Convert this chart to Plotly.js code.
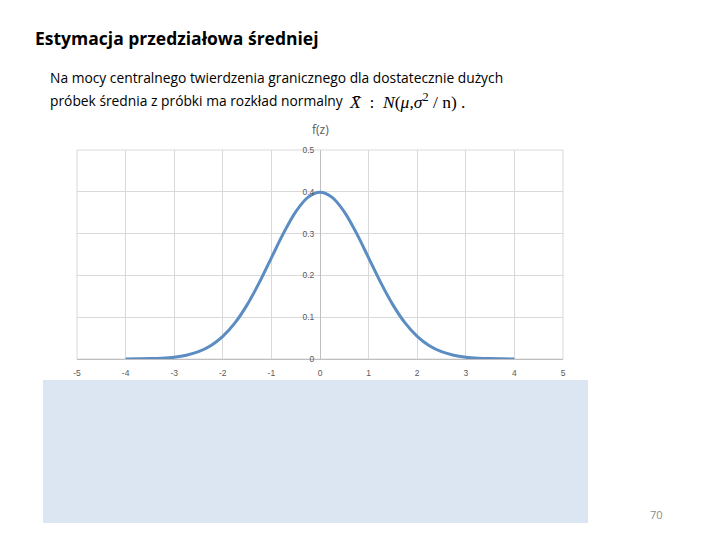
<!DOCTYPE html>
<html>
<head>
<meta charset="utf-8">
<script src="https://cdn.plot.ly/plotly-3.0.1.min.js"></script>
<style>html,body{margin:0;padding:0;background:#fff;}#chart{width:720px;height:540px;}</style>
</head>
<body>
<div id="chart"></div>
<script>
// Data (density of the curve)
const zValues = [-4,-3.75,-3.5,-3.25,-3,-2.75,-2.5,-2.25,-2,-1.75,-1.5,-1.25,-1,-0.75,-0.5,-0.25,0,0.25,0.5,0.75,1,1.25,1.5,1.75,2,2.25,2.5,2.75,3,3.25,3.5,3.75,4];
const fValues = [0.0001,0.0004,0.0009,0.0020,0.0044,0.0091,0.0175,0.0317,0.0540,0.0863,0.1295,0.1826,0.2420,0.3011,0.3521,0.3867,0.3989,0.3867,0.3521,0.3011,0.2420,0.1826,0.1295,0.0863,0.0540,0.0317,0.0175,0.0091,0.0044,0.0020,0.0009,0.0004,0.0001];
const xTicks = [-5,-4,-3,-2,-1,0,1,2,3,4,5];
const yTicks = [0,0.1,0.2,0.3,0.4,0.5];
const slideTitle = "Estymacja przedziałowa średniej";
const bodyLine1 = "Na mocy centralnego twierdzenia granicznego dla dostatecznie dużych";
const bodyLine2 = "próbek średnia z próbki ma rozkład normalny";
const axisTitle = "f(z)";
const pageNumber = "70";

const W = 720, H = 540;
const px = v => v / W, py = v => 1 - v / H;

const trace = {
  x: zValues, y: fValues, type: 'scatter', mode: 'lines',
  line: {color: '#5b8cc2', width: 3, shape: 'spline', smoothing: 1},
  hoverinfo: 'none', showlegend: false
};

const tickFont = {family: 'Liberation Sans, Arial, sans-serif', size: 8.5, color: '#595959'};

const layout = {
  width: W, height: H,
  margin: {l: 0, r: 0, t: 0, b: 0},
  paper_bgcolor: '#ffffff', plot_bgcolor: '#ffffff',
  showlegend: false,
  xaxis: {
    domain: [px(77), px(563)], range: [-5, 5],
    tickvals: xTicks, ticktext: xTicks.map(String),
    showgrid: true, gridcolor: '#d9d9d9', gridwidth: 1,
    zeroline: true, zerolinecolor: '#bfbfbf', zerolinewidth: 1,
    showline: false, ticks: 'outside', ticklen: 6, tickcolor: 'rgba(0,0,0,0)',
    tickfont: tickFont, anchor: 'y', fixedrange: true
  },
  yaxis: {
    domain: [py(359), py(150)], range: [0, 0.5],
    tickvals: yTicks, ticktext: yTicks.map(v => v === 0 ? '0' : String(v)),
    showgrid: true, gridcolor: '#d9d9d9', gridwidth: 1,
    zeroline: true, zerolinecolor: '#bfbfbf', zerolinewidth: 1,
    showline: false, ticks: 'outside', ticklen: 4, tickcolor: 'rgba(0,0,0,0)',
    tickfont: tickFont, anchor: 'free', position: px(320), fixedrange: true
  },
  shapes: [
    {type: 'rect', xref: 'paper', yref: 'paper', x0: px(77), x1: px(563), y0: py(359), y1: py(150),
     line: {color: '#d9d9d9', width: 1}, fillcolor: 'rgba(0,0,0,0)', layer: 'below'},
    {type: 'rect', xref: 'paper', yref: 'paper', x0: px(43), x1: px(588), y0: py(523), y1: py(380),
     line: {width: 0}, fillcolor: '#dce6f2', layer: 'below'}
  ],
  annotations: [
    {text: '<b>' + slideTitle + '</b>', xref: 'paper', yref: 'paper', x: px(33), y: py(38),
     xanchor: 'left', yanchor: 'middle', showarrow: false,
     font: {family: 'Open Sans, sans-serif', size: 17.5, color: '#000000'}},
    {text: bodyLine1, xref: 'paper', yref: 'paper', x: px(48), y: py(77),
     xanchor: 'left', yanchor: 'middle', showarrow: false,
     font: {family: 'Open Sans, sans-serif', size: 13.8, color: '#000000'}},
    {text: bodyLine2, xref: 'paper', yref: 'paper', x: px(48), y: py(101),
     xanchor: 'left', yanchor: 'middle', showarrow: false,
     font: {family: 'Open Sans, sans-serif', size: 13.8, color: '#000000'}},
    {text: '<i>X̄</i>  :  <i>N</i>(<i>μ</i>,<i>σ</i><sup>2</sup> / n) .', xref: 'paper', yref: 'paper', x: px(347), y: py(101),
     xanchor: 'left', yanchor: 'middle', showarrow: false,
     font: {family: 'Liberation Serif, Times New Roman, serif', size: 17.5, color: '#000000'}},
    {text: axisTitle, xref: 'paper', yref: 'paper', x: px(320), y: py(129),
     xanchor: 'center', yanchor: 'middle', showarrow: false,
     font: {family: 'Open Sans, sans-serif', size: 12, color: '#595959'}},
    {text: pageNumber, xref: 'paper', yref: 'paper', x: px(656), y: py(514),
     xanchor: 'center', yanchor: 'middle', showarrow: false,
     font: {family: 'Open Sans, sans-serif', size: 11, color: '#8c8c8c'}}
  ]
};

Plotly.newPlot('chart', [trace], layout, {staticPlot: true, displayModeBar: false});
</script>
</body>
</html>
